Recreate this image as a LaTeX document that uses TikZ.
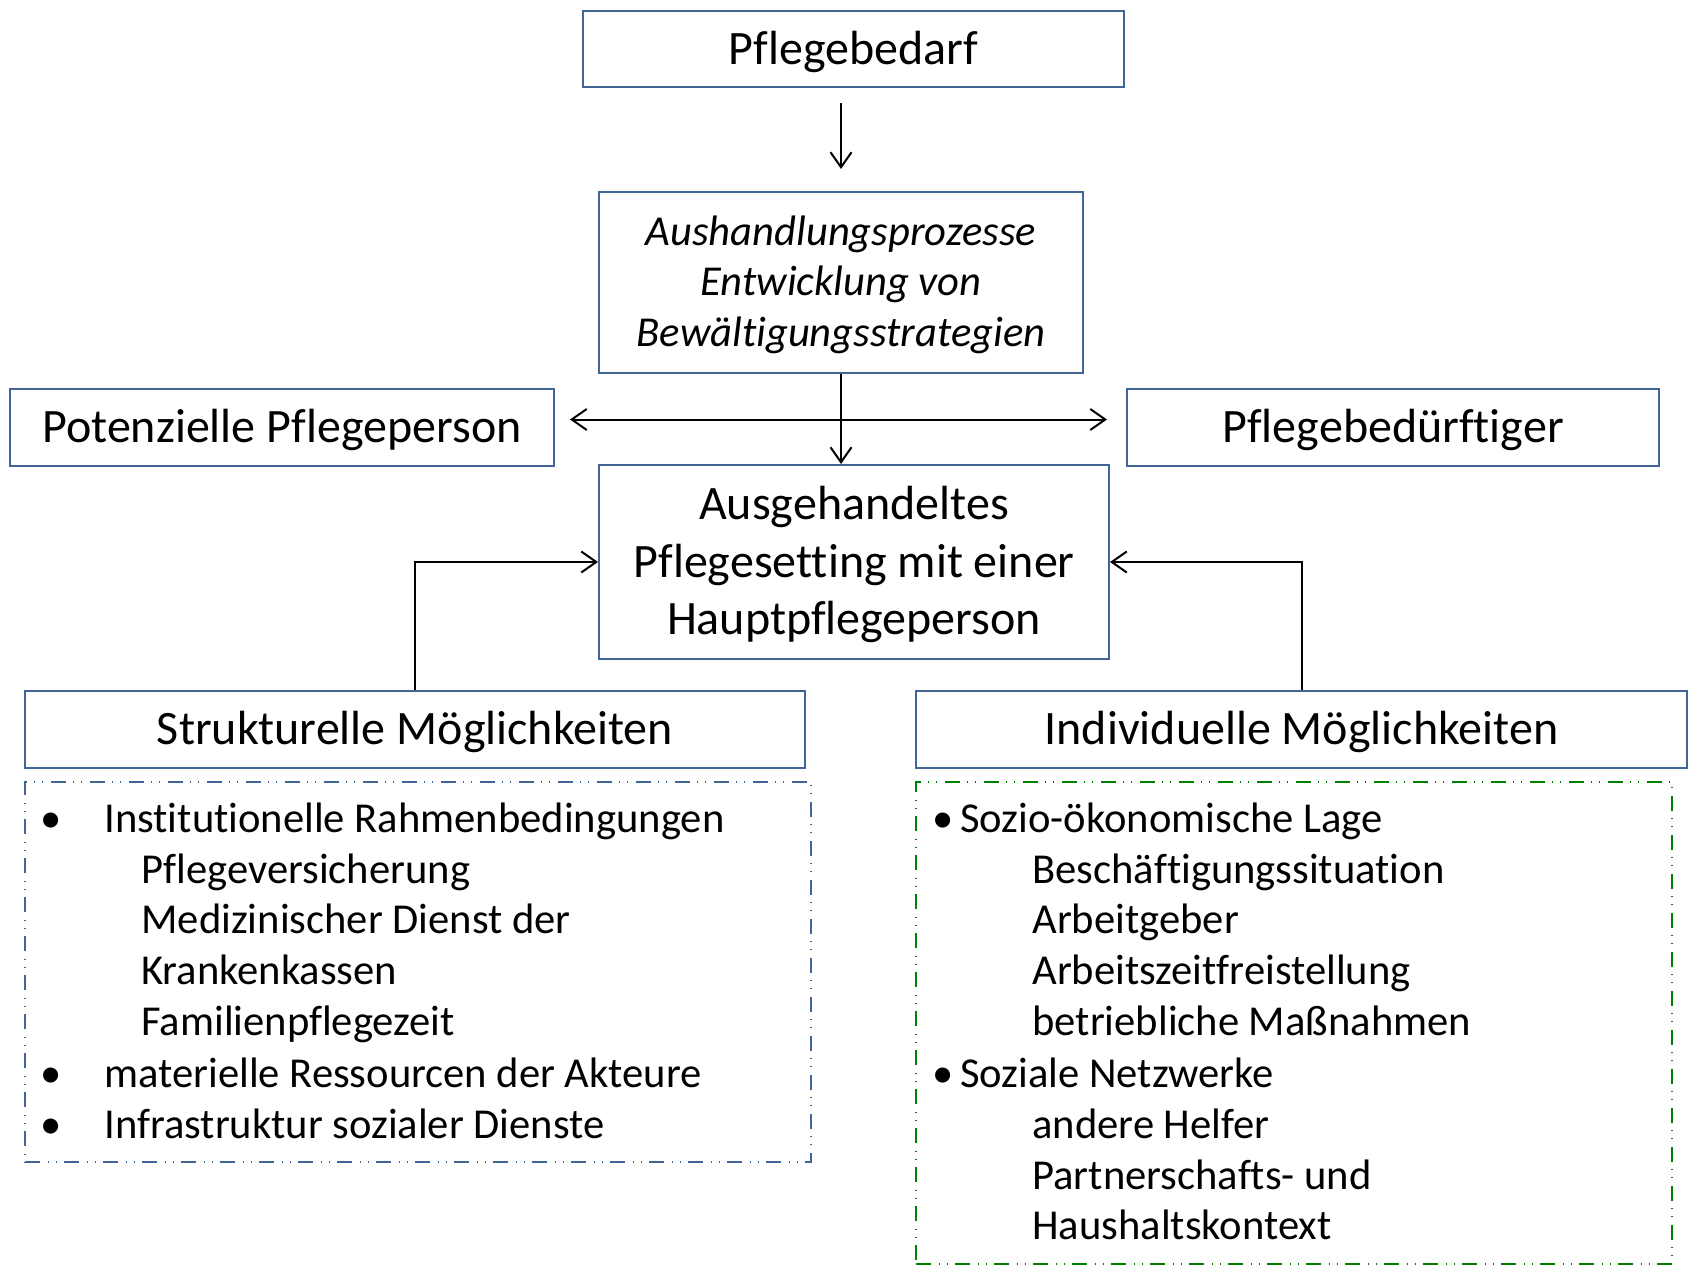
\documentclass[tikz,border=0pt]{standalone}
\usepackage{fontspec}
\setmainfont{Carlito}[Ligatures=NoCommon]
\usepackage{xcolor}
\usetikzlibrary{arrows.meta}

\definecolor{rahmenblau}{RGB}{65,101,150}
\definecolor{rahmengruen}{RGB}{0,128,0}
\newcommand{\titelschrift}{\fontsize{24}{28.8}\selectfont}
\newcommand{\listenschrift}{\fontsize{21.3}{25.33}\selectfont}

\begin{document}
\begin{tikzpicture}[x=0.5pt, y=-0.5pt, >={Straight Barb[length=7.5pt,width=10.5pt]},
    kasten/.style={draw=rahmenblau, line width=1pt, inner sep=0pt, text depth=1.5pt, align=center, font=\titelschrift},
    rahmen/.style={line width=0.75pt, dash pattern=on 7.5pt off 3.8pt on 0.8pt off 3.3pt on 0.8pt off 3.3pt},
    pfeil/.style={->, line width=1pt}]
    \useasboundingbox (0,0) rectangle (1690,1267);

    % Kaesten oben
    \node[kasten, minimum width=270.5pt, minimum height=38pt] (bedarf) at (853.5,49) {Pflegebedarf};
    \node[kasten, minimum width=242pt, minimum height=90.5pt, font=\listenschrift\itshape] (aush) at (841,282.5)
        {Aushandlungsprozesse\\Entwicklung von\\Bewältigungsstrategien};
    \node[kasten, minimum width=272pt, minimum height=38.5pt] (pot) at (282,427.5) {Potenzielle Pflegeperson};
    \node[kasten, minimum width=266pt, minimum height=38.5pt] (pbed) at (1393,427.5) {Pflegebedürftiger};
    \node[kasten, minimum width=255pt, minimum height=97pt] (ausg) at (854,562)
        {Ausgehandeltes\\Pflegesetting mit einer\\Hauptpflegeperson};

    % Moeglichkeiten
    \node[kasten, minimum width=390pt, minimum height=38.5pt] (struk) at (415,729.5) {Strukturelle Möglichkeiten};
    \node[kasten, minimum width=385.5pt, minimum height=38.5pt] (indiv) at (1301.5,729.5) {Individuelle Möglichkeiten};
    \node[rahmen, draw=rahmenblau, minimum width=393pt, minimum height=190pt] (strukrahmen) at (418,972) {};
    \node[rahmen, draw=rahmengruen, minimum width=378pt, minimum height=241pt] (indivrahmen) at (1294,1023) {};

    \node[anchor=base west, inner sep=0pt, font=\listenschrift] (strukliste) at (40,832.5) {%
        \begin{tabular}[t]{@{}l@{}}
        \makebox[32pt][l]{\textbullet}Institutionelle Rahmenbedingungen\\
        \hspace*{50.5pt}Pflegeversicherung\\
        \hspace*{50.5pt}Medizinischer Dienst der\\
        \hspace*{50.5pt}Krankenkassen\\
        \hspace*{50.5pt}Familienpflegezeit\\[1pt]
        \makebox[32pt][l]{\textbullet}materielle Ressourcen der Akteure\\
        \makebox[32pt][l]{\textbullet}Infrastruktur sozialer Dienste
        \end{tabular}};
    \node[anchor=base west, inner sep=0pt, font=\listenschrift] (indivliste) at (932,832.5) {%
        \begin{tabular}[t]{@{}l@{}}
        \makebox[14pt][l]{\textbullet}Sozio-ökonomische Lage\\
        \hspace*{50pt}Beschäftigungssituation\\
        \hspace*{50pt}Arbeitgeber\\
        \hspace*{50pt}Arbeitszeitfreistellung\\
        \hspace*{50pt}betriebliche Maßnahmen\\[1pt]
        \makebox[14pt][l]{\textbullet}Soziale Netzwerke\\
        \hspace*{50pt}andere Helfer\\
        \hspace*{50pt}Partnerschafts- und\\
        \hspace*{50pt}Haushaltskontext
        \end{tabular}};

    % Pfeile
    \draw[pfeil] ([yshift=-7.5pt]bedarf.south -| aush.north) -- ([yshift=11pt]aush.north);
    \draw[pfeil] (aush.south) -- (aush.south |- ausg.north);
    \draw[pfeil, <->] ([xshift=7.5pt,yshift=4pt]pot.east) -- ([xshift=-9.5pt,yshift=4pt]pbed.west);
    \draw[pfeil] (struk.north) |- (ausg.west);
    \draw[pfeil] (indiv.north) |- (ausg.east);
\end{tikzpicture}
\end{document}
